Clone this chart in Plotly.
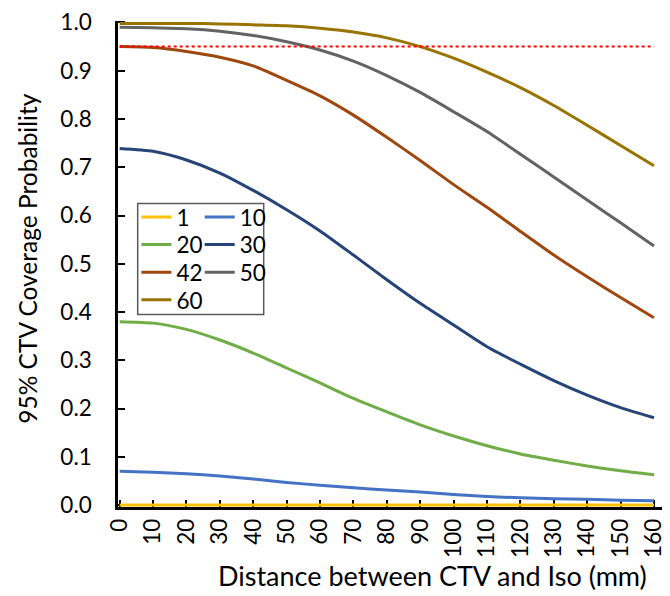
import plotly.graph_objects as go

distance = [0, 10, 20, 30, 40, 50, 60, 70, 80, 90, 100, 110, 120, 130, 140, 150, 160]

s_1 = [0.000, 0.000, 0.000, 0.000, 0.000, 0.000, 0.000, 0.000, 0.000,
       0.000, 0.000, 0.000, 0.000, 0.000, 0.000, 0.000, 0.000]
s_10 = [0.070, 0.068, 0.065, 0.060, 0.054, 0.047, 0.041, 0.036, 0.031,
        0.027, 0.022, 0.018, 0.015, 0.013, 0.012, 0.010, 0.009]
s_20 = [0.380, 0.377, 0.364, 0.342, 0.315, 0.284, 0.253, 0.221, 0.193,
        0.166, 0.143, 0.123, 0.106, 0.093, 0.081, 0.071, 0.063]
s_30 = [0.739, 0.733, 0.715, 0.688, 0.652, 0.612, 0.568, 0.518, 0.467,
        0.418, 0.373, 0.328, 0.292, 0.258, 0.228, 0.202, 0.181]
s_42 = [0.950, 0.948, 0.940, 0.928, 0.910, 0.880, 0.848, 0.808, 0.762,
        0.714, 0.664, 0.617, 0.567, 0.518, 0.473, 0.430, 0.388]
s_50 = [0.990, 0.989, 0.987, 0.982, 0.973, 0.960, 0.943, 0.920, 0.890,
        0.855, 0.815, 0.774, 0.727, 0.680, 0.632, 0.585, 0.537]
s_60 = [0.998, 0.998, 0.998, 0.997, 0.995, 0.993, 0.988, 0.980, 0.968,
        0.950, 0.926, 0.897, 0.865, 0.828, 0.787, 0.745, 0.703]
target = [0.95, 0.95, 0.95, 0.95, 0.95, 0.95, 0.95, 0.95, 0.95,
          0.95, 0.95, 0.95, 0.95, 0.95, 0.95, 0.95, 0.95]

series_names = ["1", "10", "20", "30", "42", "50", "60"]
x_ticks = [0, 10, 20, 30, 40, 50, 60, 70, 80, 90, 100, 110, 120, 130, 140, 150, 160]
y_ticks = [0.0, 0.1, 0.2, 0.3, 0.4, 0.5, 0.6, 0.7, 0.8, 0.9, 1.0]

FONT = "Lato"
TICK_SIZE = 22.5
XTITLE_SIZE = 27
YTITLE_SIZE = 24.5

series_values = [s_1, s_10, s_20, s_30, s_42, s_50, s_60]
series_colors = ["#FFC000", "#4472C4", "#70AD47", "#264478",
                 "#9E480E", "#636363", "#997300"]

# page body has an 8px margin, so the figure is 662x588 placed at (8, 8)
PLOT_LEFT = 118.3   # screen px
PLOT_W = 552.0
PLOT_BOTTOM = 507.0
PLOT_H = 490.0


def px_x(sx):
    return (sx - PLOT_LEFT) / PLOT_W


def px_y(sy):
    return (PLOT_BOTTOM - sy) / PLOT_H


row_centers = [215.0, 242.8, 270.6, 298.4]
col_lefts = [136.7, 200.0]

fig = go.Figure()
legend_layouts = {}
for i, (name, vals, color) in enumerate(zip(series_names, series_values, series_colors)):
    key = "legend" if i == 0 else "legend%d" % (i + 1)
    fig.add_trace(go.Scatter(
        x=distance, y=vals, name=name, mode="lines",
        line=dict(color=color, width=3, shape="spline", smoothing=0.6),
        legend=key,
    ))
    legend_layouts[key] = dict(
        x=px_x(col_lefts[i % 2]), y=px_y(row_centers[i // 2]),
        xanchor="left", yanchor="middle",
        bgcolor="rgba(0,0,0,0)", borderwidth=0,
        font=dict(family=FONT, size=TICK_SIZE, color="black"),
    )

fig.add_trace(go.Scatter(
    x=distance, y=target, mode="lines", showlegend=False,
    line=dict(color="#FF0000", width=2, dash="dot"),
))

axis_common = dict(
    showline=True, linecolor="black", linewidth=2.5,
    ticks="inside", ticklen=7, tickwidth=2, tickcolor="black",
    showgrid=False, zeroline=False,
    tickfont=dict(family=FONT, size=TICK_SIZE, color="black"),
    ticklabeloverflow="allow",
    layer="below traces",
)

fig.update_layout(
    width=662, height=588,
    margin=dict(l=110, r=0, t=9, b=89),
    paper_bgcolor="white", plot_bgcolor="white",
    font=dict(family=FONT, color="black"),
    xaxis=dict(range=[-0.5, 164.8], tickvals=x_ticks,
               ticktext=[str(v) for v in x_ticks], tickangle=-90,
               **axis_common),
    yaxis=dict(range=[-0.004, 1.003], tickvals=y_ticks, tickformat=".1f",
               ticklabelstandoff=19, **axis_common),
    showlegend=True,
    **legend_layouts,
)

fig.add_shape(type="rect", xref="paper", yref="paper",
              x0=px_x(138), x1=px_x(264), y0=px_y(313), y1=px_y(201),
              line=dict(color="#595959", width=1.5), fillcolor="white",
              layer="below")

fig.add_annotation(text="Distance between CTV and Iso (mm)",
                   xref="paper", yref="paper", x=px_x(432.5), y=0,
                   xanchor="center", yanchor="middle", yshift=-(575 - 507),
                   showarrow=False,
                   font=dict(family=FONT, size=XTITLE_SIZE, color="black"))
fig.add_annotation(text="95% CTV Coverage Probability",
                   xref="paper", yref="paper", x=0, y=px_y(257),
                   xanchor="center", yanchor="middle", xshift=-(PLOT_LEFT - 27),
                   textangle=-90, showarrow=False,
                   font=dict(family=FONT, size=YTITLE_SIZE, color="black"))

fig.write_html("out.html")
